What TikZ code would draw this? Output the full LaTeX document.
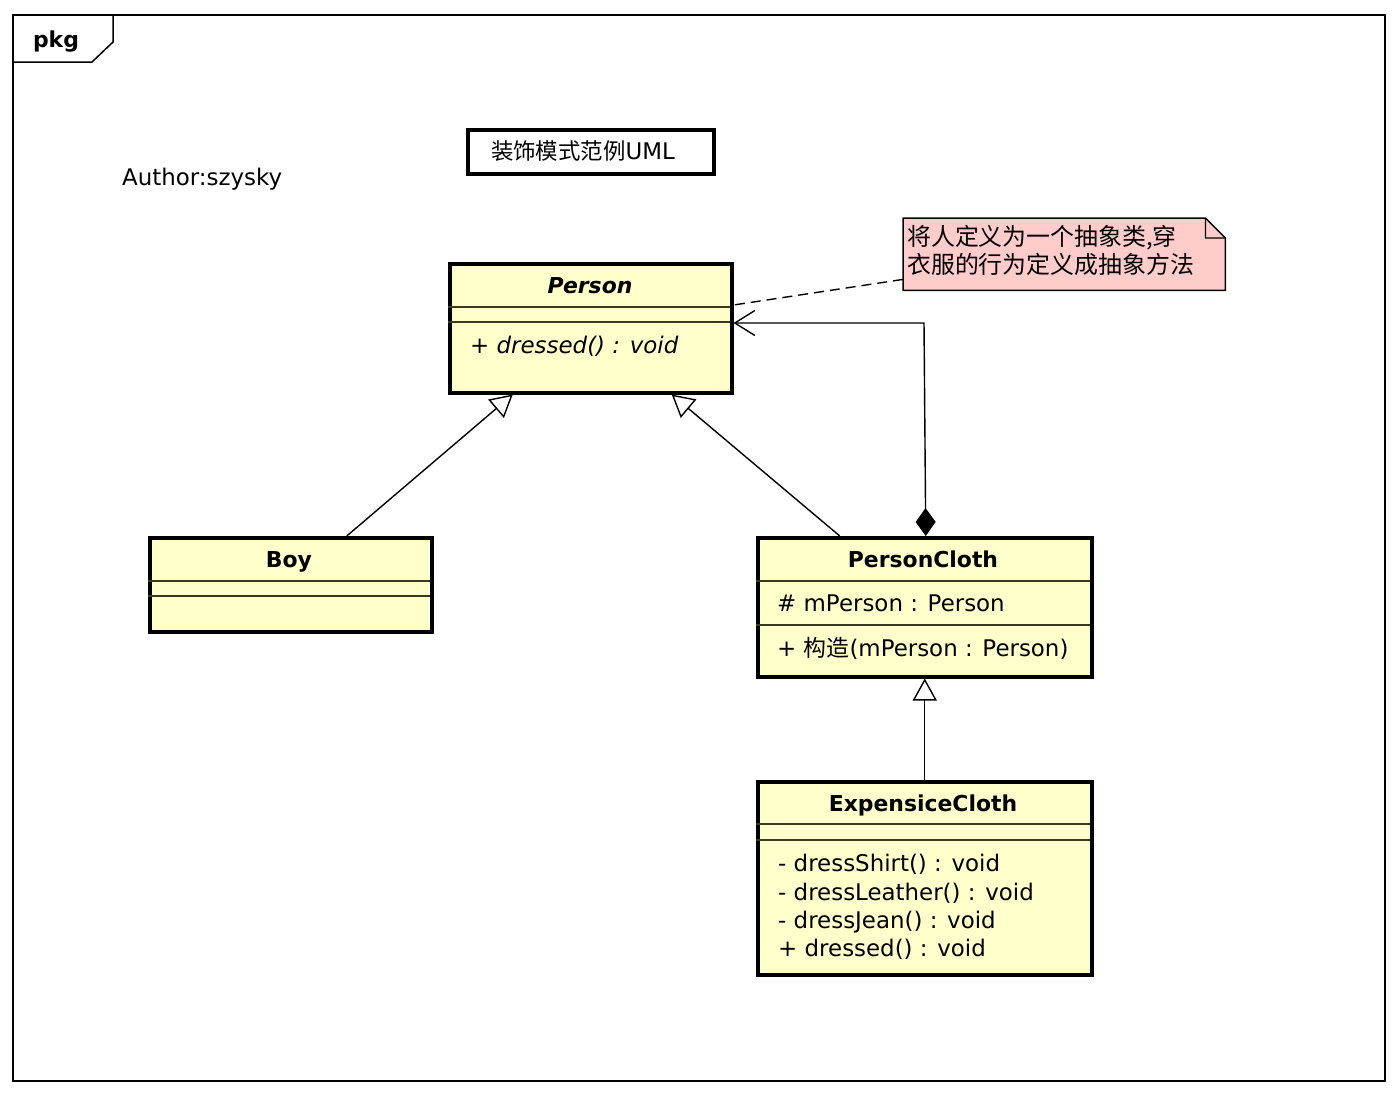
\documentclass[tikz,border=0pt]{standalone}
\usepackage{fontspec}
\setmainfont{DejaVu Sans}
\newfontfamily\cjk{Noto Sans CJK SC}
\usetikzlibrary{arrows.meta,calc}

\definecolor{classfill}{HTML}{FFFFCC}
\definecolor{notefill}{HTML}{FFCCCC}
\definecolor{divider}{HTML}{3A3A20}

\tikzset{
  body/.style={font=\fontsize{23}{27}\selectfont},
  classbox/.style={draw=black, line width=3.5bp, fill=classfill, rectangle,
    inner sep=0pt, anchor=north west},
  divline/.style={draw=divider, line width=1.6bp},
  lbl/.style={body, anchor=base west, inner sep=0pt},
  clsname/.style={font=\fontsize{22}{26}\selectfont\bfseries, anchor=base, inner sep=0pt},
  conn/.style={line width=1.4bp},
  gen/.style={conn, -{Triangle[open, length=22bp, width=24bp, fill=white, line width=1.4bp]}},
  notetxt/.style={font=\fontsize{24}{28}\selectfont\cjk, anchor=base west, inner sep=0pt},
}

\begin{document}
\begin{tikzpicture}[x=1bp, y=-1bp]
  \useasboundingbox (0,0) rectangle (1396,1096);
  \fill[white] (0,0) rectangle (1396,1096);

  % package frame and its tab
  \node[draw, line width=2bp, rectangle, inner sep=0pt, anchor=north west,
        minimum width=1372bp, minimum height=1066bp] (frame) at (12,14) {};
  \draw[line width=1.5bp] (frame.north west) ++(0,48) -- ++(80,0) -- ++(21,-20) -- ++(0,-28);
  \node[clsname] (pkg) at (56,47) {pkg};

  % author and title
  \node[lbl] (author) at (122,185) {Author:szysky};
  \node[draw, line width=3.5bp, rectangle, inner sep=0pt, anchor=north west,
        minimum width=246bp, minimum height=44bp] (titlebox) at (466,128) {};
  \node[body, anchor=base, inner sep=0pt] (title) at (583,159)
    {{\cjk\fontsize{22.5}{26}\selectfont 装饰模式范例}UML};

  % class Person
  \node[classbox, minimum width=282bp, minimum height=129bp] (person) at (448,262) {};
  \draw[divline] (448,307) -- (730,307);
  \draw[divline] (448,322) -- (730,322);
  \node[clsname, font=\fontsize{22}{26}\selectfont\bfseries\itshape] (personname) at (590,293) {Person};
  \node[lbl, font=\fontsize{23}{27}\selectfont\itshape] (personop) at (470,353) {+ dressed() : void};

  % class Boy
  \node[classbox, minimum width=282bp, minimum height=94bp] (boy) at (148,536) {};
  \draw[divline] (148,581) -- (430,581);
  \draw[divline] (148,596) -- (430,596);
  \node[clsname] (boyname) at (289,567) {Boy};

  % class PersonCloth
  \node[classbox, minimum width=334bp, minimum height=139bp] (pc) at (756,536) {};
  \draw[divline] (756,581) -- (1090,581);
  \draw[divline] (756,625) -- (1090,625);
  \node[clsname] (pcname) at (923,567) {PersonCloth};
  \node[lbl] (pcattr) at (777,611) {\# mPerson : Person};
  \node[lbl] (pcop) at (777,656) {+ {\cjk 构造}(mPerson : Person)};

  % class ExpensiceCloth
  \node[classbox, minimum width=334bp, minimum height=193bp] (ec) at (756,780) {};
  \draw[divline] (756,824) -- (1090,824);
  \draw[divline] (756,840) -- (1090,840);
  \node[clsname] (ecname) at (923,811) {ExpensiceCloth};
  \node[lbl] (ecop1) at (778,871) {- dressShirt() : void};
  \node[lbl] (ecop2) at (778,900) {- dressLeather() : void};
  \node[lbl] (ecop3) at (778,928) {- dressJean() : void};
  \node[lbl] (ecop4) at (778,956) {+ dressed() : void};

  % note with folded corner
  \node[rectangle, inner sep=0pt, anchor=north west, minimum width=322bp,
        minimum height=72bp] (note) at (903,218) {};
  \draw[fill=notefill, line width=1.5bp]
    (note.south west) -- (note.north west) -- ([xshift=-20bp]note.north east)
    -- ([yshift=-20bp]note.north east) -- (note.south east) -- cycle;
  \draw[line width=1.3bp] ([xshift=-20bp]note.north east) -- ++(0,20) -- ([yshift=-20bp]note.north east);
  \node[notetxt] (noteline1) at (907,245) {将人定义为一个抽象类,穿};
  \node[notetxt] (noteline2) at (907,273) {衣服的行为定义成抽象方法};

  % note anchor line
  \draw[conn, dash pattern=on 10bp off 6bp] ([yshift=11bp]note.south west) -- ([yshift=-43bp]person.north east);

  % generalizations
  \draw[gen] ([xshift=56bp]boy.north) -- ([xshift=-78bp]person.south);
  \draw[gen] ([xshift=-85bp]pc.north) -- ([xshift=81bp]person.south);
  \draw[gen] (ec.north) -- (pc.south);

  % composition: PersonCloth holds a Person
  \coordinate (bend) at (924,323);
  \draw[conn, {Diamond[length=28bp, width=20bp]}-{Straight Barb[length=20bp, width=25bp, line width=1.4bp]}]
    ([xshift=1bp]pc.north) -- (bend) -- (person.east |- bend);
\end{tikzpicture}
\end{document}
